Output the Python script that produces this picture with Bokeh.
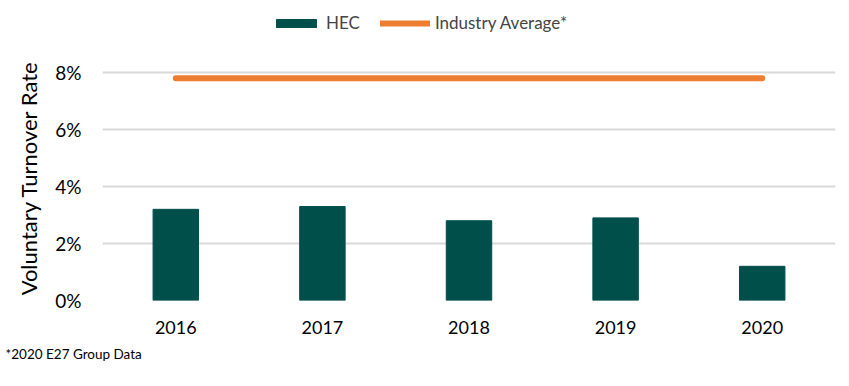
from bokeh.plotting import figure
from bokeh.models import ColumnDataSource, Legend, LegendItem, Title, FixedTicker, PrintfTickFormatter, Range1d
from bokeh.embed import file_html
from bokeh.resources import INLINE

years = ["2016", "2017", "2018", "2019", "2020"]
hec_rate = [3.2, 3.3, 2.8, 2.9, 1.2]
industry_avg = [7.8, 7.8, 7.8, 7.8, 7.8]
y_ticks = [0, 2, 4, 6, 8]

FONT = "Lato"
src = ColumnDataSource(dict(year=years, hec=hec_rate, ind=industry_avg))

p = figure(x_range=years, y_range=Range1d(0, 10.18), width=849, height=386,
           output_backend="svg", toolbar_location=None,
           min_border_left=102, min_border_right=14, min_border_top=10, min_border_bottom=86)
p.outline_line_color = None

bars = p.vbar(x="year", top="hec", width=0.31, source=src, fill_color="#004f4b", line_color="#004f4b")
line = p.line(x="year", y="ind", source=src, line_color="#ed7d31", line_width=6, line_cap="round")

p.xgrid.grid_line_color = None
p.ygrid.grid_line_color = "#d9d9d9"
p.ygrid.grid_line_width = 2
p.yaxis.ticker = FixedTicker(ticks=y_ticks)
p.yaxis.formatter = PrintfTickFormatter(format="%d%%")
for ax in (p.xaxis[0], p.yaxis[0]):
    ax.axis_line_color = None
    ax.major_tick_line_color = None
    ax.minor_tick_line_color = None
    ax.major_label_text_font = FONT
    ax.major_label_text_color = "#000000"
p.yaxis.major_label_text_font_size = "19px"
p.xaxis.major_label_text_font_size = "18px"
p.xaxis.major_label_standoff = 14
p.yaxis.major_label_standoff = 15
# trailing no-break spaces shift the centred label toward the gridded area
p.yaxis.axis_label = "Voluntary Turnover Rate" + "\u00a0" * 8
p.yaxis.axis_label_text_font = FONT
p.yaxis.axis_label_text_font_size = "22px"
p.yaxis.axis_label_text_font_style = "normal"
p.yaxis.axis_label_text_color = "#000000"
p.yaxis.axis_label_standoff = 10

legend = Legend(items=[LegendItem(label="HEC", renderers=[bars]),
                       LegendItem(label="Industry Average*", renderers=[line])],
                orientation="horizontal", location=(169, 267),
                label_text_font=FONT, label_text_font_size="17px",
                glyph_width=50, glyph_height=10, label_standoff=5, spacing=20,
                background_fill_alpha=0, border_line_color=None, padding=0, margin=0)
p.add_layout(legend)

foot = Title(text="*2020 E27 Group Data", align="left", offset=-97,
             text_font=FONT, text_font_size="13.5px", text_font_style="normal",
             text_color="#000000", standoff=15)
p.add_layout(foot, "below")

open("out.html", "w").write(file_html(p, INLINE))
